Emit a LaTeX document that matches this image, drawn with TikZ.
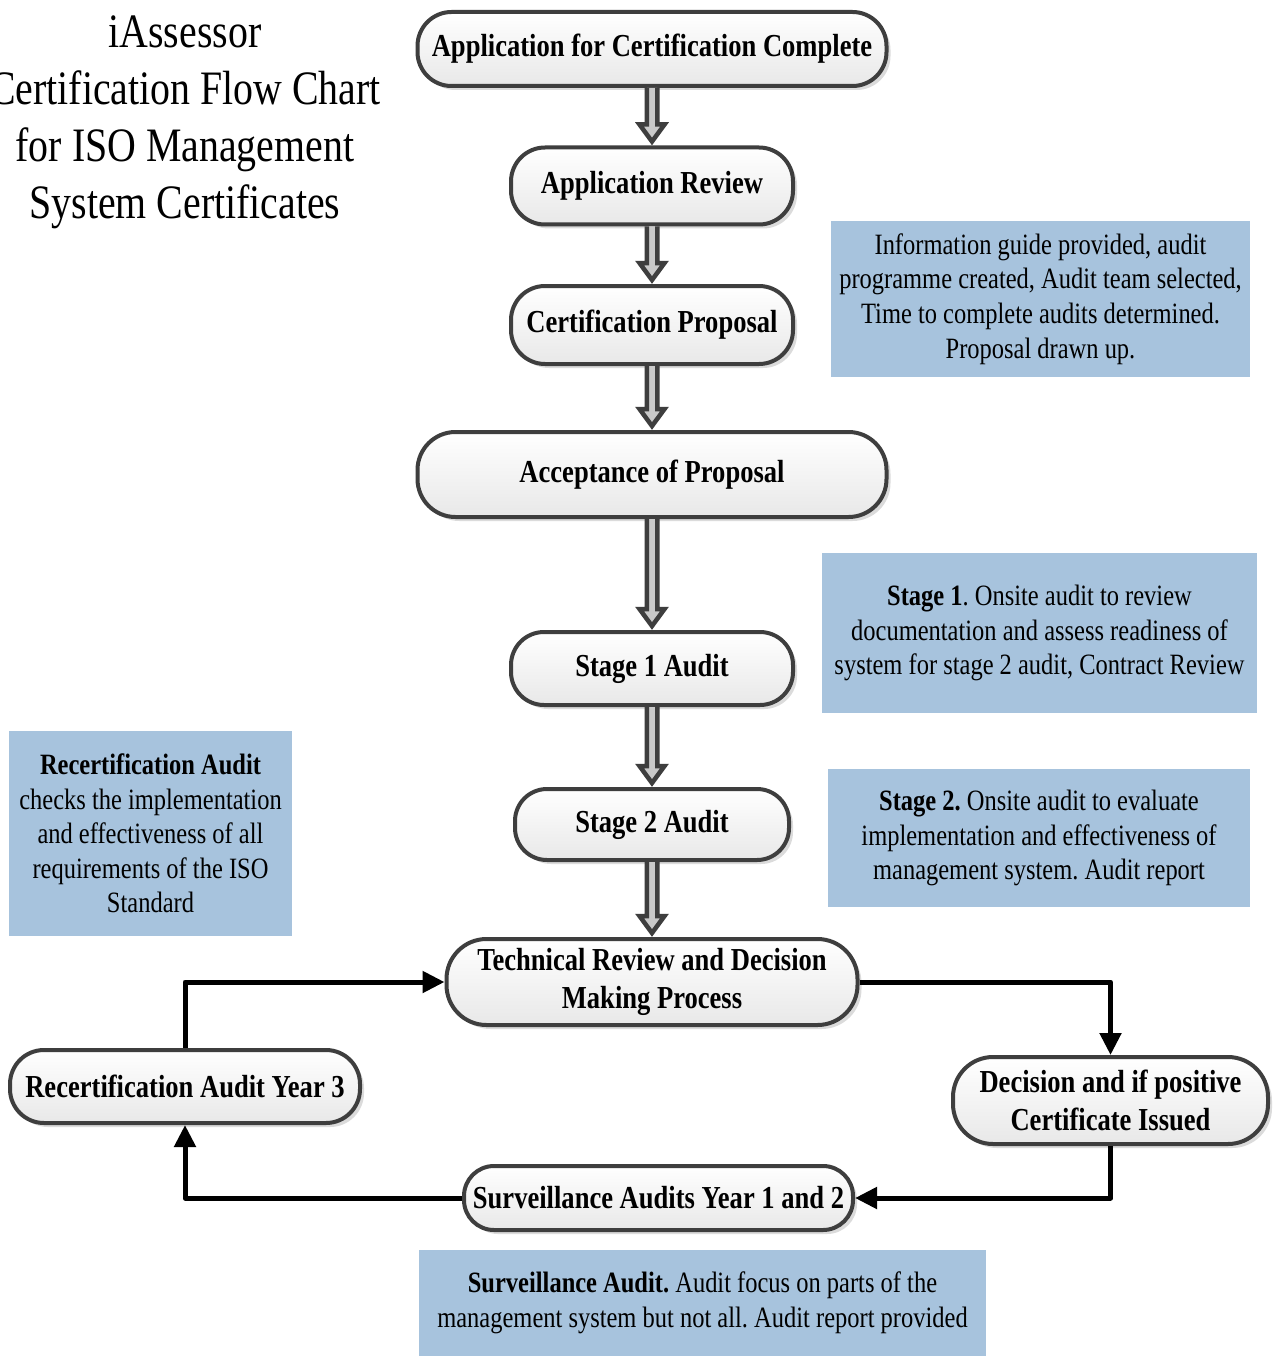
\documentclass[tikz,border=0pt]{standalone}
\usepackage{fontspec}
\setmainfont{Liberation Serif}[FakeStretch=0.83]
\frenchspacing
\usetikzlibrary{calc,arrows.meta,shadows}
\definecolor{bluebox}{HTML}{A7C3DD}
\definecolor{edge}{HTML}{3E3E3E}
\definecolor{arrowfill}{HTML}{C9C9C9}
\newcommand\boxfont{\fontsize{32}{38}\selectfont\bfseries}
\newcommand\notefont{\fontsize{29.5}{34.6}\selectfont}
\newcommand\titlefont{\fontsize{48}{57}\selectfont}
\newcommand\blockarrow[2]{%
  \draw[blockar] ($(#1.south)+(-5.25,0)$) -- ($(#2.north)+(-5.25,-21)$) -- ($(#2.north)+(-12.5,-21)$) -- ($(#2.north)+(0,-4)$) -- ($(#2.north)+(12.5,-21)$) -- ($(#2.north)+(5.25,-21)$) -- ($(#1.south)+(5.25,0)$);}
\begin{document}
\begin{tikzpicture}[x=1pt,y=-1pt,
  stepbox/.style={draw=edge, line width=4pt, rectangle, rounded corners=#1,
    top color=white, bottom color=black!9, inner sep=0pt, align=center,
    font=\boxfont,
    drop shadow={shadow xshift=4pt, shadow yshift=-4pt, fill=black!35, opacity=0.4}},
  stepbox/.default=30pt,
  note/.style={fill=bluebox, rectangle, inner sep=0pt, align=center, font=\notefont},
  blockar/.style={draw=edge, fill=arrowfill, line width=4.5pt, line join=miter},
  conn/.style={line width=5pt, black, line join=round, -{Triangle[length=22pt,width=21pt]}}]
\useasboundingbox (0,0) rectangle (1275,1356);
\fill[white] (0,0) rectangle (1275,1356);

% title
\node[align=center, font=\titlefont] (title) at (185,122)
  {iAssessor\\Certification Flow Chart\\for ISO Management\\System Certificates};

% blue notes
\node[note, minimum width=419, minimum height=156] (n1) at (1040.5,299)
  {Information guide provided, audit\\programme created, Audit team selected,\\Time to complete audits determined.\\Proposal drawn up.};
\node[note, minimum width=435, minimum height=160] (n2) at (1039.5,633)
  {\textbf{Stage 1}. Onsite audit to review\\documentation and assess readiness of\\system for stage 2 audit, Contract Review};
\node[note, minimum width=283, minimum height=205] (n3) at (150.5,833.5)
  {\textbf{Recertification Audit}\\checks the implementation\\and effectiveness of all\\requirements of the ISO\\Standard};
\node[note, minimum width=422, minimum height=138] (n4) at (1039,838)
  {\textbf{Stage 2.} Onsite audit to evaluate\\implementation and effectiveness of\\management system. Audit report};
\node[note, minimum width=567, minimum height=106] (n5) at (702.5,1303)
  {\textbf{Surveillance Audit.} Audit focus on parts of the\\management system but not all. Audit report provided};

% process boxes
\node[stepbox=34pt, minimum width=469, minimum height=74] (app) at (652,49) {Application for Certification Complete};
\node[stepbox=34pt, minimum width=282, minimum height=77] (rev) at (652,186) {Application Review};
\node[stepbox=34pt, minimum width=282, minimum height=78] (prop) at (652,325) {Certification Proposal};
\node[stepbox=38pt, minimum width=469, minimum height=85] (acc) at (652,474.5) {Acceptance of Proposal};
\node[stepbox=33pt, minimum width=282, minimum height=73] (s1) at (652,668.5) {Stage 1 Audit};
\node[stepbox=32pt, minimum width=274, minimum height=71] (s2) at (652,824.5) {Stage 2 Audit};
\node[stepbox=40pt, minimum width=411, minimum height=86] (tech) at (652,982) {Technical Review and Decision\\Making Process};
\node[stepbox=34pt, minimum width=350, minimum height=73] (recert) at (185,1086.5) {Recertification Audit Year 3};
\node[stepbox=40pt, minimum width=315, minimum height=87] (dec) at (1110.5,1100.5) {Decision and if positive\\Certificate Issued};
\node[stepbox=30pt, minimum width=389, minimum height=64] (surv) at (658.5,1198) {Surveillance Audits Year 1 and 2};

% block arrows
\blockarrow{app}{rev}
\blockarrow{rev}{prop}
\blockarrow{prop}{acc}
\blockarrow{acc}{s1}
\blockarrow{s1}{s2}
\blockarrow{s2}{tech}

% loop connectors
\draw[conn] (tech.east) -| (dec.north);
\draw[conn] (dec.south) |- (surv.east);
\draw[conn] (surv.west) -| (recert.south);
\draw[conn] (recert.north) |- (tech.west);
\end{tikzpicture}
\end{document}
